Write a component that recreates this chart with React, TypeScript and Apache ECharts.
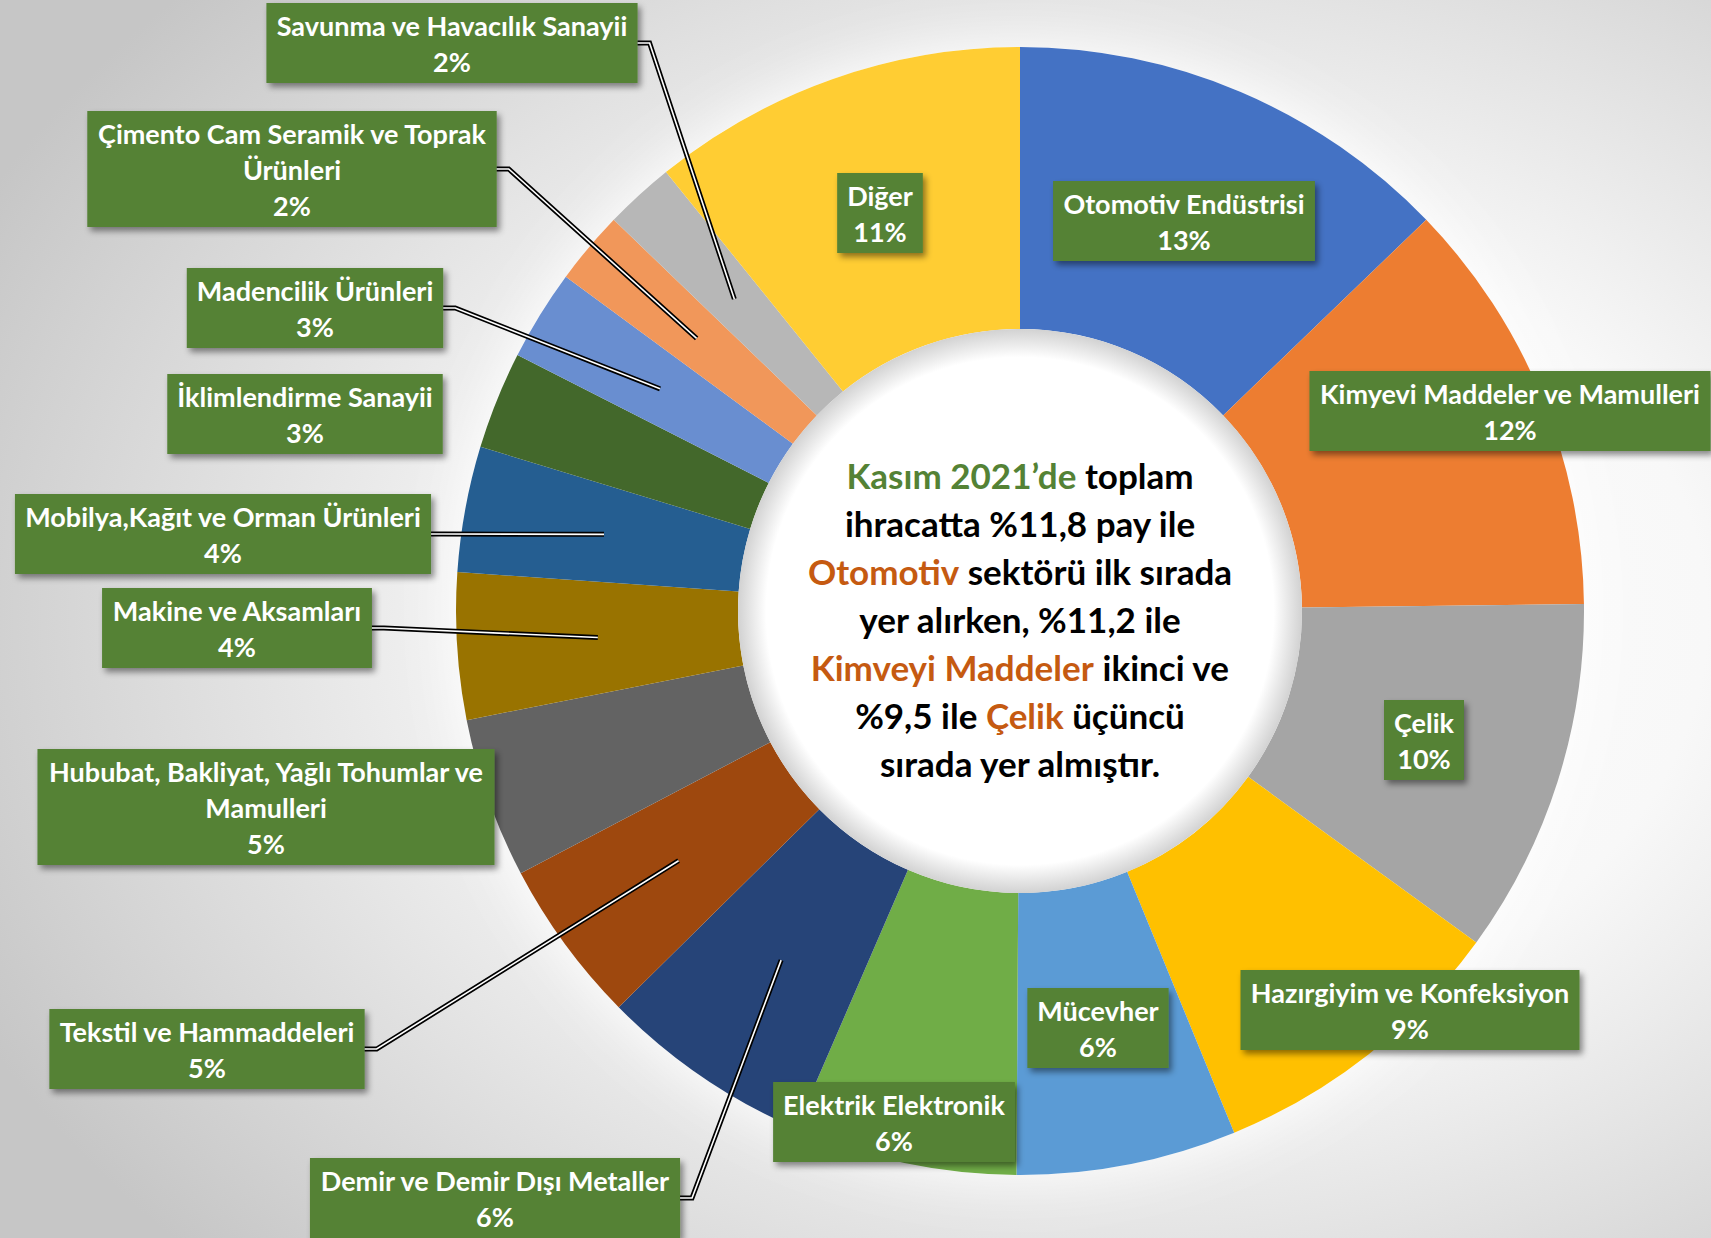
import React, { useEffect, useRef } from "react";
import * as echarts from "echarts";

// ---- data ----
const categories: string[] = [
  "Otomotiv Endüstrisi",
  "Kimyevi Maddeler ve Mamulleri",
  "Çelik",
  "Hazırgiyim ve Konfeksiyon",
  "Mücevher",
  "Elektrik Elektronik",
  "Demir ve Demir Dışı Metaller",
  "Tekstil ve Hammaddeleri",
  "Hububat, Bakliyat, Yağlı Tohumlar ve\nMamulleri",
  "Makine ve Aksamları",
  "Mobilya,Kağıt ve Orman Ürünleri",
  "İklimlendirme Sanayii",
  "Madencilik Ürünleri",
  "Çimento Cam Seramik ve Toprak\nÜrünleri",
  "Savunma ve Havacılık Sanayii",
  "Diğer",
];
const shares: number[] = [12.8, 12.0, 10.2, 8.8, 6.3, 6.4, 6.1, 4.7, 4.6, 4.2, 3.6, 2.8, 2.6, 2.1, 2.0, 10.8];

const sliceColors: string[] = [
  "#4472C4", "#ED7D31", "#A5A5A5", "#FFC000", "#5B9BD5", "#70AD47", "#264478", "#9E480E",
  "#636363", "#997300", "#255E91", "#43682B", "#698ED0", "#F1975A", "#B7B7B7", "#FFCD33",
];

// label box centres (layout, px)
const labelCenters: [number, number][] = [
  [1184, 221], [1510, 411], [1424, 740], [1410, 1010], [1098, 1028], [894, 1122],
  [495, 1198], [207, 1049], [266, 807], [237, 628], [223, 534], [305, 414],
  [315, 308], [292, 169], [452, 43], [880, 213],
];
const hasLeader: boolean[] = [
  false, false, false, false, false, false, true, true, false, true, true, false, true, true, true, false,
];

const centerLines: string[] = [
  "{g|Kasım 2021’de} toplam",
  "ihracatta %11,8 pay ile",
  "{o|Otomotiv} sektörü ilk sırada",
  "yer alırken, %11,2 ile",
  "{o|Kimveyi Maddeler} ikinci ve",
  "%9,5 ile {o|Çelik} üçüncü",
  "sırada yer almıştır.",
];

const CENTER: [number, number] = [1020, 611];
const R_IN = 282;
const R_OUT = 564;
const R_MID = (R_IN + R_OUT) / 2;
const FONT = "Lato, 'Open Sans', sans-serif";

export default function App() {
  const ref = useRef<HTMLDivElement>(null);
  useEffect(() => {
    if (!ref.current) return;
    const chart = echarts.init(ref.current, undefined, { renderer: "svg" });
    const total = shares.reduce((a, b) => a + b, 0);
    const data = categories.map((name, i) => ({
      name,
      value: shares[i],
      itemStyle: { color: sliceColors[i] },
    }));
    const lineData = categories.map((name, i) => ({
      name,
      value: shares[i],
      labelLine: { show: hasLeader[i] },
    }));

    const layoutFn = (params: any) => {
      const i = params.dataIndex;
      const [x, y] = labelCenters[i];
      const out: any = { x, y, align: "center", verticalAlign: "middle" };
      const pts = params.labelLinePoints;
      if (hasLeader[i] && pts && pts.length) {
        const p0 = pts[0];
        const dx = p0[0] - CENTER[0];
        const dy = p0[1] - CENTER[1];
        const d = Math.hypot(dx, dy) || 1;
        const anchor = [CENTER[0] + (dx / d) * R_MID, CENTER[1] + (dy / d) * R_MID];
        const w = params.labelRect.width;
        const left = x < CENTER[0];
        const edgeX = left ? x + w / 2 : x - w / 2;
        const elbowX = edgeX + (left ? 12 : -12);
        out.labelLinePoints = [anchor, [elbowX, y], [edgeX, y]];
      }
      return out;
    };

    const labelBase = {
      show: true,
      position: "outside",
      formatter: (p: any) => `${p.name}\n${Math.round((p.value * 100) / total)}%`,
      fontFamily: FONT,
      fontWeight: "bold",
      fontSize: 27,
      lineHeight: 36,
      padding: [4, 10],
      align: "center",
    };

    const bg = new echarts.graphic.RadialGradient(0.66, 0.5, 0.75, [
      { offset: 0, color: "#ffffff" },
      { offset: 0.45, color: "#f8f8f8" },
      { offset: 1, color: "#c6c6c6" },
    ]);
    const holeFill = new echarts.graphic.RadialGradient(0.5, 0.5, 0.5, [
      { offset: 0, color: "#ffffff" },
      { offset: 0.9, color: "#ffffff" },
      { offset: 1, color: "#d2d2d2" },
    ]);

    const richBase = { fontFamily: FONT, fontWeight: "bold", fontSize: 35, lineHeight: 48 };

    const lineSeries = (color: string, width: number, z: number) => ({
      type: "pie",
      z,
      silent: true,
      center: CENTER,
      radius: [R_IN, R_OUT],
      startAngle: 90,
      clockwise: true,
      avoidLabelOverlap: false,
      emphasis: { disabled: true },
      itemStyle: { color: "rgba(0,0,0,0)" },
      label: {
        ...labelBase,
        color: "rgba(0,0,0,0)",
        backgroundColor: "rgba(0,0,0,0)",
      },
      labelLine: { lineStyle: { color, width } },
      labelLayout: layoutFn,
      data: lineData,
    });

    chart.setOption({
      animation: false,
      graphic: [
        {
          type: "rect",
          z: -10,
          silent: true,
          shape: { x: 0, y: 0, width: 1711, height: 1238 },
          style: { fill: bg },
        },
        {
          type: "text",
          z: 100,
          silent: true,
          x: CENTER[0],
          y: CENTER[1] + 8,
          style: {
            text: centerLines.join("\n"),
            align: "center",
            verticalAlign: "middle",
            fill: "#000000",
            ...richBase,
            rich: {
              g: { ...richBase, fill: "#548235" },
              o: { ...richBase, fill: "#C55A11" },
            },
          },
        },
      ],
      series: [
        {
          type: "pie",
          silent: true,
          z: 1,
          center: CENTER,
          radius: [0, R_OUT],
          label: { show: false },
          labelLine: { show: false },
          emphasis: { disabled: true },
          itemStyle: { color: "#ffffff", shadowBlur: 60, shadowColor: "rgba(255,255,255,1)" },
          data: [{ value: 1, name: "glow" }],
        },
        {
          type: "pie",
          z: 2,
          silent: true,
          center: CENTER,
          radius: [R_IN, R_OUT],
          startAngle: 90,
          clockwise: true,
          avoidLabelOverlap: false,
          emphasis: { disabled: true },
          label: {
            ...labelBase,
            color: "#ffffff",
            backgroundColor: "#548235",
            shadowColor: "rgba(0,0,0,0.45)",
            shadowBlur: 6,
            shadowOffsetX: 3,
            shadowOffsetY: 4,
          },
          labelLine: { show: false },
          labelLayout: layoutFn,
          data,
        },
        lineSeries("#000000", 5, 3),
        lineSeries("#ffffff", 1.6, 4),
        {
          type: "pie",
          z: 5,
          silent: true,
          center: CENTER,
          radius: [0, R_IN],
          label: { show: false },
          labelLine: { show: false },
          emphasis: { disabled: true },
          itemStyle: { color: holeFill },
          data: [{ value: 1, name: "hole" }],
        },
      ],
    });
    return () => chart.dispose();
  }, []);
  return (
    <div
      ref={ref}
      style={{ position: "absolute", left: 0, top: 0, width: 1711, height: 1238 }}
    />
  );
}
